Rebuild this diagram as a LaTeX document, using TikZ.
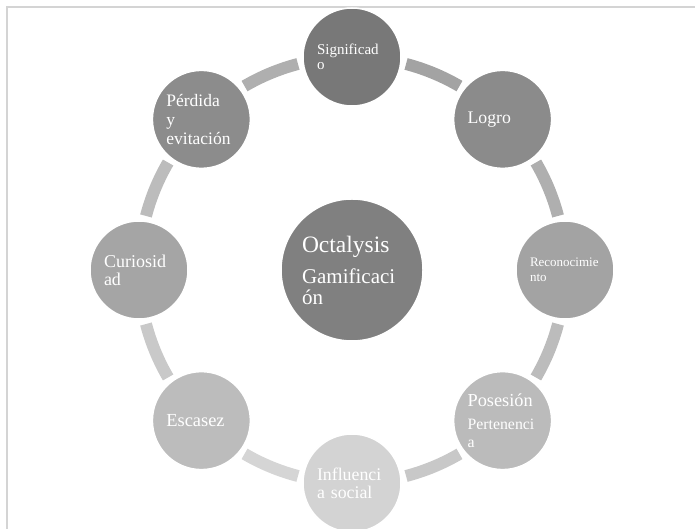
\documentclass[tikz,border=0pt]{standalone}
\usepackage{fontspec}
\setmainfont{Liberation Serif}
\hyphenpenalty=10000
\exhyphenpenalty=10000
\definecolor{framecol}{HTML}{D4D4D4}
\definecolor{cSig}{HTML}{787878}
\definecolor{cLog}{HTML}{8B8B8B}
\definecolor{cRec}{HTML}{A3A3A3}
\definecolor{cPos}{HTML}{BBBBBB}
\definecolor{cInf}{HTML}{D3D3D3}
\definecolor{cEsc}{HTML}{BCBCBC}
\definecolor{cCur}{HTML}{A5A5A5}
\definecolor{cPer}{HTML}{8C8C8C}
\definecolor{cOct}{HTML}{808080}
\definecolor{aA}{HTML}{A3A3A3}
\definecolor{aB}{HTML}{AFAFAF}
\definecolor{aC}{HTML}{BCBCBC}
\definecolor{aD}{HTML}{C8C8C8}
\definecolor{aE}{HTML}{D5D5D5}
\definecolor{aF}{HTML}{C9C9C9}
\definecolor{aG}{HTML}{BCBCBC}
\definecolor{aH}{HTML}{AFAFAF}
\begin{document}
\begin{tikzpicture}[x=1pt,y=1pt,
  ringnode/.style={circle, draw=white, line width=1.5pt, minimum size=98pt,
    text width=70pt, align=left, inner sep=0pt, text=white},
  bignode/.style={circle, draw=white, line width=1.5pt, minimum size=142pt,
    text width=100pt, align=left, inner sep=0pt, text=white, fill=cOct},
  ringarc/.style={line width=12pt},
  framestyle/.style={draw=framecol, line width=1.5pt}]
\useasboundingbox (0,0) rectangle (695,529);
\draw[framestyle] (7,-5) -- (7,522) -- (700,522);

\coordinate (ctr) at (352,259);

% ring arcs
\draw[ringarc, aA] (ctr) ++(75.3:213) arc[start angle=75.3, end angle=59.7, radius=213];
\draw[ringarc, aB] (ctr) ++(30.3:213) arc[start angle=30.3, end angle=14.7, radius=213];
\draw[ringarc, aC] (ctr) ++(-14.7:213) arc[start angle=-14.7, end angle=-30.3, radius=213];
\draw[ringarc, aD] (ctr) ++(-59.7:213) arc[start angle=-59.7, end angle=-75.3, radius=213];
\draw[ringarc, aE] (ctr) ++(-104.7:213) arc[start angle=-104.7, end angle=-120.3, radius=213];
\draw[ringarc, aF] (ctr) ++(-149.7:213) arc[start angle=-149.7, end angle=-165.3, radius=213];
\draw[ringarc, aG] (ctr) ++(165.3:213) arc[start angle=165.3, end angle=149.7, radius=213];
\draw[ringarc, aH] (ctr) ++(120.3:213) arc[start angle=120.3, end angle=104.7, radius=213];

% center
\node[bignode, font=\fontsize{21}{21}\selectfont] (oct) at (ctr) {{\fontsize{23.5}{21}\selectfont Octalysis}\\[10pt]Gamificaci\\ón};

% ring nodes
\node[ringnode, fill=cSig, font=\fontsize{15}{15}\selectfont] (sig) at ([shift={(90:213)}]ctr) {Significad\\o};
\node[ringnode, fill=cLog, font=\fontsize{17.7}{18}\selectfont] (log) at ([shift={(45:213)}]ctr) {Logro};
\node[ringnode, fill=cRec, font=\fontsize{13}{15}\selectfont] (rec) at ([shift={(0:213)}]ctr) {Reconocimie\\nto};
\node[ringnode, fill=cPos, font=\fontsize{15.8}{18}\selectfont] (pos) at ([shift={(-45:213)}]ctr) {{\fontsize{18.3}{18}\selectfont Posesión}\\[5pt]Pertenenci\\a};
\node[ringnode, fill=cInf, font=\fontsize{17.8}{18}\selectfont] (inf) at ([shift={(-90:213)}]ctr) {Influenci\\a social};
\node[ringnode, fill=cEsc, font=\fontsize{18.4}{18}\selectfont] (esc) at ([shift={(-135:213)}]ctr) {Escasez};
\node[ringnode, fill=cCur, font=\fontsize{18}{18}\selectfont] (cur) at ([shift={(180:213)}]ctr) {Curiosid\\ad};
\node[ringnode, fill=cPer, font=\fontsize{17.5}{19}\selectfont] (per) at ([shift={(135:213)}]ctr) {Pérdida\\y\\evitación};
\end{tikzpicture}
\end{document}
